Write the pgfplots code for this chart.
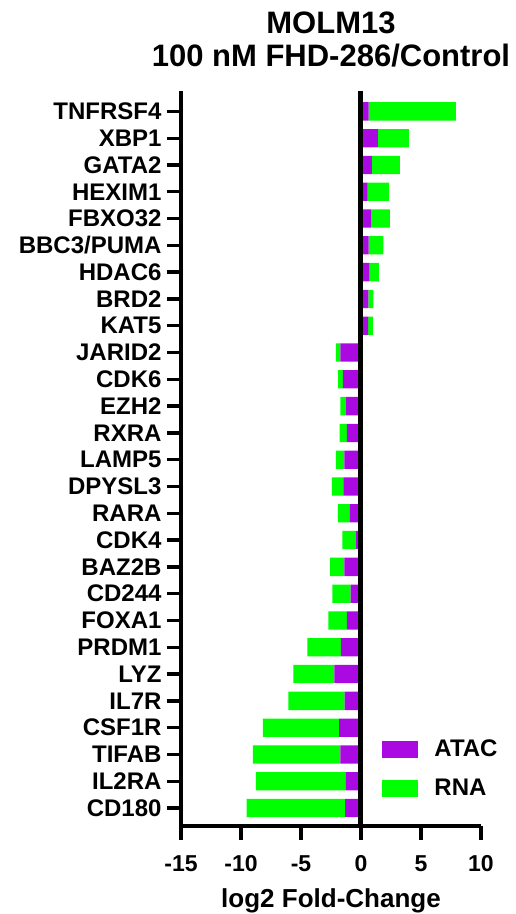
\documentclass[border=0pt]{standalone}
\usepackage{pgfplots}
\pgfplotsset{compat=1.18}
\usepackage{pgfplotstable}
\usepackage{fontspec}
\setmainfont{Liberation Sans}
\definecolor{atac}{RGB}{170,10,225}
\definecolor{rna}{RGB}{0,255,0}
\pgfplotstableread{
idx atac rna
0 -1.33 -8.20
1 -1.25 -7.50
2 -1.72 -7.28
3 -1.83 -6.34
4 -1.36 -4.70
5 -2.22 -3.42
6 -1.67 -2.80
7 -1.17 -1.55
8 -0.86 -1.53
9 -1.39 -1.19
10 -0.44 -1.12
11 -0.92 -1.00
12 -1.47 -0.95
13 -1.39 -0.71
14 -1.17 -0.61
15 -1.28 -0.44
16 -1.50 -0.40
17 -1.72 -0.38
18 0.60 0.40
19 0.61 0.42
20 0.67 0.83
21 0.64 1.22
22 0.83 1.57
23 0.55 1.80
24 0.90 2.35
25 1.40 2.60
26 0.64 7.26
}\datatable
\begin{document}
\begin{tikzpicture}
\begin{axis}[
  width=300pt, height=735pt, scale only axis,
  xmin=-15, xmax=10, ymin=-0.67, ymax=26.76,
  axis lines*=left,
  axis line style={line width=4pt},
  xbar stacked, bar width=18.3pt,
  xtick={-15,-10,-5,0,5,10},
  xticklabels={\textbf{-15},\textbf{-10},\textbf{-5},\textbf{0},\textbf{5},\textbf{10}},
  ytick={0,...,26},
  yticklabels={CD180,IL2RA,TIFAB,CSF1R,IL7R,LYZ,PRDM1,FOXA1,CD244,BAZ2B,CDK4,RARA,DPYSL3,LAMP5,RXRA,EZH2,CDK6,JARID2,KAT5,BRD2,HDAC6,BBC3/PUMA,FBXO32,HEXIM1,GATA2,XBP1,TNFRSF4},
  tick align=outside, major tick length=14pt,
  tick style={black, line width=3.3pt},
  x tick label style={font=\fontsize{23}{23}\selectfont\bfseries, yshift=-12pt},
  y tick label style={font=\fontsize{24}{24}\selectfont\bfseries, xshift=-2pt},
  xlabel={log2 Fold-Change},
  xlabel style={font=\fontsize{26}{26}\selectfont\bfseries, at={(axis description cs:0.5,0)}, anchor=base, yshift=-81pt, inner sep=0pt},
  title={MOLM13\\100 nM FHD-286/Control},
  title style={align=center, font=\fontsize{31}{33}\selectfont\bfseries, at={(axis description cs:0.5,1)}, anchor=south, yshift=18pt, inner sep=0pt},
  extra x ticks={0}, extra x tick labels={},
  extra x tick style={grid=major, major grid style={black, line width=5pt}},
  axis on top,
  legend style={at={(axis cs:1.79,2.61)}, anchor=north west, draw=none, fill=none,
    inner sep=0pt, outer sep=0pt,
    font=\fontsize{24}{24}\selectfont\bfseries, row sep=17pt, column sep=14pt},
  legend cell align=left,
]
\addplot[fill=atac, draw=none, legend image code/.code={\fill[atac] (0pt,-8.5pt) rectangle (36pt,8.5pt);}] table[x=atac, y=idx] {\datatable};
\addplot[fill=rna, draw=none, legend image code/.code={\fill[rna] (0pt,-8.5pt) rectangle (36pt,8.5pt);}] table[x=rna, y=idx] {\datatable};
\legend{ATAC, RNA}
\coordinate (LL) at (rel axis cs:0,0);
\end{axis}
\pgfresetboundingbox
\path[use as bounding box] ([shift={(-181pt,-88pt)}]LL) rectangle ([shift={(334pt,826pt)}]LL);
\end{tikzpicture}
\end{document}
